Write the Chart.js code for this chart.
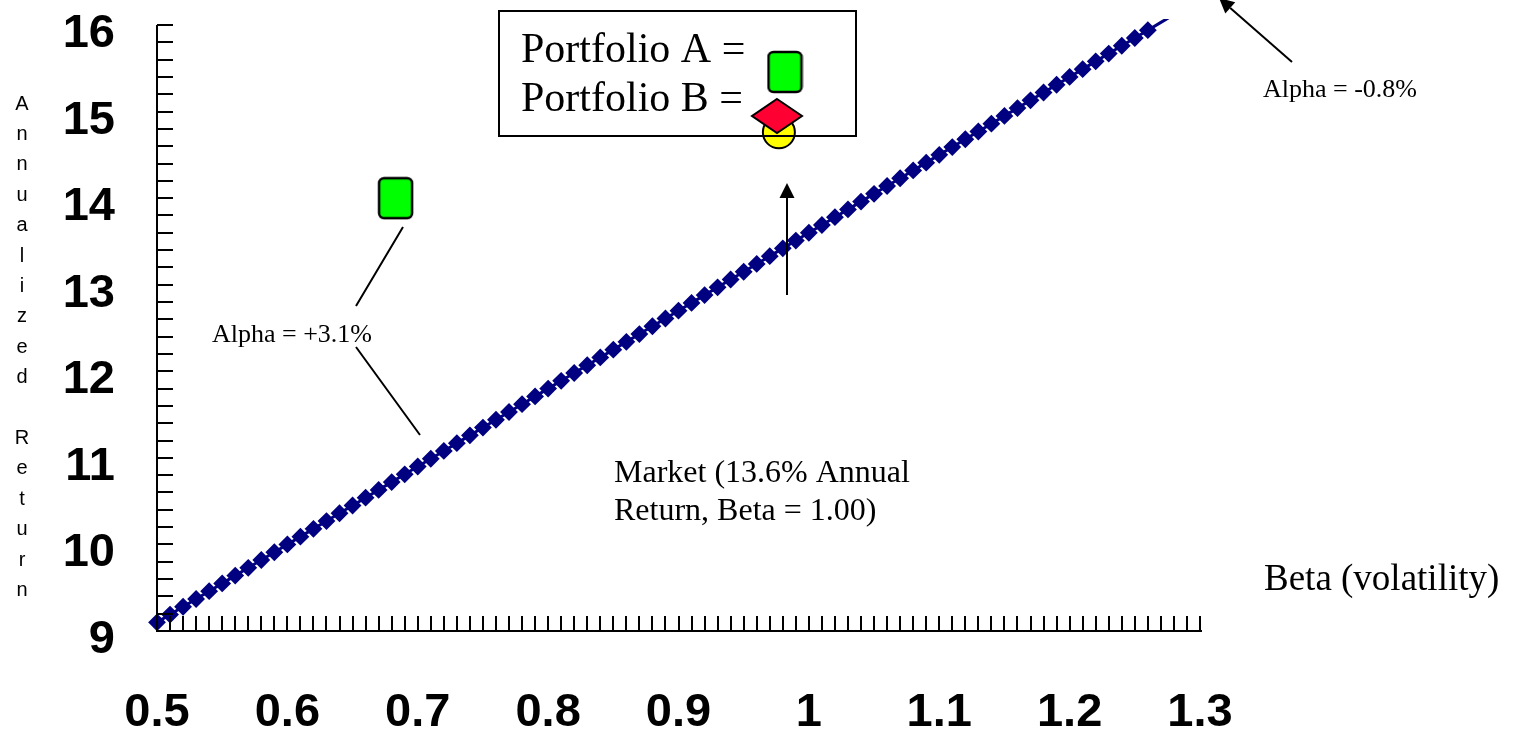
<!DOCTYPE html>
<html>
<head>
<meta charset="utf-8">
<script src="https://cdn.jsdelivr.net/npm/chart.js@4.4.1/dist/chart.umd.min.js"></script>
<style>
  body { margin: 0; background: #fff; }
  canvas { display: block; }
</style>
</head>
<body>
<canvas id="chart" width="1518" height="734"></canvas>
<script>
// security market line, one point per 0.01 of beta
const betas = [0.50, 0.51, 0.52, 0.53, 0.54, 0.55, 0.56, 0.57, 0.58, 0.59,
  0.60, 0.61, 0.62, 0.63, 0.64, 0.65, 0.66, 0.67, 0.68, 0.69,
  0.70, 0.71, 0.72, 0.73, 0.74, 0.75, 0.76, 0.77, 0.78, 0.79,
  0.80, 0.81, 0.82, 0.83, 0.84, 0.85, 0.86, 0.87, 0.88, 0.89,
  0.90, 0.91, 0.92, 0.93, 0.94, 0.95, 0.96, 0.97, 0.98, 0.99,
  1.00, 1.01, 1.02, 1.03, 1.04, 1.05, 1.06, 1.07, 1.08, 1.09,
  1.10, 1.11, 1.12, 1.13, 1.14, 1.15, 1.16, 1.17, 1.18, 1.19,
  1.20, 1.21, 1.22, 1.23, 1.24, 1.25, 1.26, 1.27, 1.28];
const returns = [9.10, 9.19, 9.28, 9.37, 9.46, 9.55, 9.64, 9.73, 9.82, 9.91,
  10.00, 10.09, 10.18, 10.27, 10.36, 10.45, 10.54, 10.63, 10.72, 10.81,
  10.90, 10.99, 11.08, 11.17, 11.26, 11.35, 11.44, 11.53, 11.62, 11.71,
  11.80, 11.89, 11.98, 12.07, 12.16, 12.25, 12.34, 12.43, 12.52, 12.61,
  12.70, 12.79, 12.88, 12.97, 13.06, 13.15, 13.24, 13.33, 13.42, 13.51,
  13.60, 13.69, 13.78, 13.87, 13.96, 14.05, 14.14, 14.23, 14.32, 14.41,
  14.50, 14.59, 14.68, 14.77, 14.86, 14.95, 15.04, 15.13, 15.22, 15.31,
  15.40, 15.49, 15.58, 15.67, 15.76, 15.85, 15.94, 16.03, 16.12];

const portfolioABeta = [0.683];
const portfolioAReturn = [14.0];
const markerBeta = [0.977];
const markerReturn = [14.76];

const xTickValues = [0.5, 0.6, 0.7, 0.8, 0.9, 1.0, 1.1, 1.2, 1.3];
const xTickLabels = ["0.5", "0.6", "0.7", "0.8", "0.9", "1", "1.1", "1.2", "1.3"];
const yTickValues = [9, 10, 11, 12, 13, 14, 15, 16];
const yTickLabels = ["9", "10", "11", "12", "13", "14", "15", "16"];
const xMinorStep = 0.01;
const yMinorStep = 0.2;
const yTitle = "Annualized Return";

const serif = '"Liberation Serif", "Times New Roman", serif';
const sans = '"Liberation Sans", Arial, sans-serif';

function makeBox(w, h, fill) {
    const c = document.createElement("canvas");
    c.width = w + 4;
    c.height = h + 4;
    const g = c.getContext("2d");
    g.fillStyle = fill;
    g.strokeStyle = "#000";
    g.lineWidth = 2.5;
    g.beginPath();
    g.roundRect(2, 2, w, h, 5);
    g.fill();
    g.stroke();
    return c;
}
const greenBox = makeBox(33, 40, "#00ff00");

function arrow(ctx, x1, y1, x2, y2) {
    const ang = Math.atan2(y2 - y1, x2 - x1);
    const len = 15, half = 7.5;
    const bx = x2 - Math.cos(ang) * len, by = y2 - Math.sin(ang) * len;
    ctx.beginPath();
    ctx.moveTo(x1, y1);
    ctx.lineTo(bx, by);
    ctx.stroke();
    ctx.beginPath();
    ctx.moveTo(x2, y2);
    ctx.lineTo(bx + Math.sin(ang) * half, by - Math.cos(ang) * half);
    ctx.lineTo(bx - Math.sin(ang) * half, by + Math.cos(ang) * half);
    ctx.closePath();
    ctx.fill();
}

const axesPlugin = {
    id: "axesPlugin",
    afterDatasetsDraw(chart) {
        const ctx = chart.ctx;
        const xs = chart.scales.x, ys = chart.scales.y;
        const a = chart.chartArea;
        ctx.save();
        ctx.strokeStyle = "#000";
        ctx.fillStyle = "#000";
        ctx.lineWidth = 2;

        // axis lines
        ctx.beginPath();
        ctx.moveTo(a.left, a.top);
        ctx.lineTo(a.left, a.bottom);
        ctx.lineTo(a.right + 2, a.bottom);
        ctx.stroke();

        // inward minor tick marks
        ctx.beginPath();
        const ny = Math.round((ys.max - ys.min) / yMinorStep);
        for (let i = 0; i <= ny; i++) {
            const y = Math.round(ys.getPixelForValue(ys.min + i * yMinorStep));
            ctx.moveTo(a.left, y);
            ctx.lineTo(a.left + 16, y);
        }
        const nx = Math.round((xs.max - xs.min) / xMinorStep);
        for (let i = 0; i <= nx; i++) {
            const x = Math.round(xs.getPixelForValue(xs.min + i * xMinorStep));
            ctx.moveTo(x, a.bottom);
            ctx.lineTo(x, a.bottom - 15);
        }
        ctx.stroke();

        // tick labels
        ctx.font = "bold 47px " + sans;
        ctx.textAlign = "right";
        ctx.textBaseline = "middle";
        yTickValues.forEach((v, i) => {
            ctx.fillText(yTickLabels[i], 115, ys.getPixelForValue(v) + 9);
        });
        ctx.textAlign = "center";
        xTickValues.forEach((v, i) => {
            ctx.fillText(xTickLabels[i], xs.getPixelForValue(v), 713);
        });

        // stacked y title
        ctx.font = "20px " + sans;
        [...yTitle].forEach((ch, i) => {
            ctx.fillText(ch, 22, 104 + i * 30.4);
        });

        // x title
        ctx.textAlign = "left";
        ctx.textBaseline = "alphabetic";
        ctx.font = "37px " + serif;
        ctx.fillText("Beta (volatility)", 1264, 590);

        // legend box
        ctx.strokeRect(499, 11, 357, 125);
        ctx.font = "42px " + serif;
        ctx.fillText("Portfolio A =", 521, 62);
        ctx.fillText("Portfolio B =", 521, 111);
        ctx.drawImage(greenBox, 785 - greenBox.width / 2, 72 - greenBox.height / 2);
        ctx.beginPath();
        ctx.moveTo(777, 99);
        ctx.lineTo(802, 116);
        ctx.lineTo(777, 133);
        ctx.lineTo(752, 116);
        ctx.closePath();
        ctx.fillStyle = "#ff0033";
        ctx.fill();
        ctx.stroke();
        ctx.fillStyle = "#000";

        // market note
        ctx.font = "32px " + serif;
        ctx.fillText("Market (13.6% Annual", 614, 482);
        ctx.fillText("Return, Beta = 1.00)", 614, 520);
        arrow(ctx, 787, 295, 787, 183);

        // alpha notes
        ctx.font = "26px " + serif;
        ctx.fillText("Alpha = +3.1%", 212, 342);
        ctx.fillText("Alpha = -0.8%", 1263, 97);
        ctx.beginPath();
        ctx.moveTo(403, 227);
        ctx.lineTo(356, 306);
        ctx.moveTo(356, 347);
        ctx.lineTo(420, 435);
        ctx.stroke();
        arrow(ctx, 1292, 62, 1219, -2);

        ctx.restore();
    }
};

new Chart(document.getElementById("chart"), {
    type: "scatter",
    data: {
        datasets: [{
            label: "Portfolio A",
            data: portfolioABeta.map((b, i) => ({ x: b, y: portfolioAReturn[i] })),
            pointStyle: greenBox,
            order: 1,
            clip: false
        }, {
            label: "Marker",
            data: markerBeta.map((b, i) => ({ x: b, y: markerReturn[i] })),
            pointStyle: "circle",
            pointRadius: 16,
            backgroundColor: "#ffff00",
            borderColor: "#000",
            borderWidth: 2,
            order: 2,
            clip: false
        }, {
            label: "Market line",
            data: betas.map((b, i) => ({ x: b, y: returns[i] })),
            showLine: true,
            borderColor: "#000080",
            backgroundColor: "#000080",
            borderWidth: 3,
            pointStyle: "rectRot",
            pointRadius: (c) => (c.raw && c.raw.y > 16 ? 0 : 7.5),
            pointBorderWidth: 2,
            order: 3,
            clip: { left: 10, top: 6, right: 10, bottom: 10 }
        }]
    },
    options: {
        responsive: false,
        animation: false,
        events: [],
        layout: { padding: { left: 157, top: 25, right: 318, bottom: 103 } },
        plugins: { legend: { display: false }, tooltip: { enabled: false } },
        scales: {
            x: { type: "linear", display: false, min: 0.5, max: 1.3 },
            y: { type: "linear", display: false, min: 9, max: 16 }
        }
    },
    plugins: [axesPlugin]
});
</script>
</body>
</html>
